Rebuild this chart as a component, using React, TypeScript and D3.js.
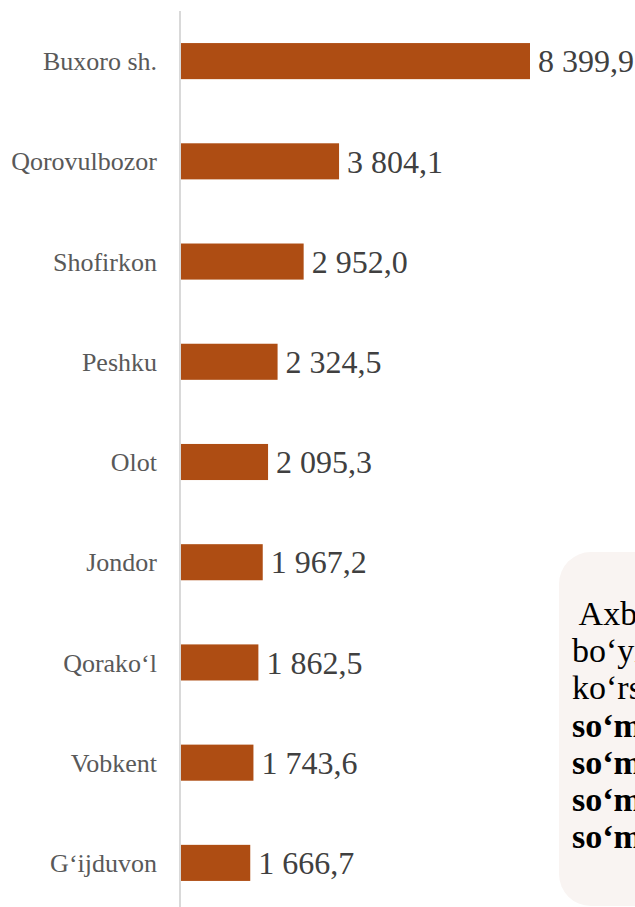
import { useEffect, useRef } from 'react';
import * as d3 from 'd3';

const districts = [
  'Buxoro sh.',
  'Qorovulbozor',
  'Shofirkon',
  'Peshku',
  'Olot',
  'Jondor',
  'Qorako‘l',
  'Vobkent',
  'G‘ijduvon',
];
const values = [8399.9, 3804.1, 2952.0, 2324.5, 2095.3, 1967.2, 1862.5, 1743.6, 1666.7];
const valueLabels = ['8 399,9', '3 804,1', '2 952,0', '2 324,5', '2 095,3', '1 967,2', '1 862,5', '1 743,6', '1 666,7'];

// note box text (the box is cut by the right edge of the picture)
const noteLines = [
  ' Axborot uchun: respublika',
  'bo‘yicha o‘rtacha',
  'ko‘rsatkich',
  'so‘m',
  'so‘m',
  'so‘m',
  'so‘m',
];
const boldFrom = 3;

const W = 635;
const H = 907;

export default function App() {
  const svgRef = useRef<SVGSVGElement>(null);

  useEffect(() => {
    if (!svgRef.current) return;
    document.body.style.margin = '0';

    const svg = d3.select(svgRef.current);
    svg.selectAll('*').remove();

    const x = d3.scaleLinear().domain([0, d3.max(values) as number]).range([181, 530]);
    const y = d3.scaleBand<string>()
      .domain(districts)
      .range([11, 913])
      .paddingInner(0.64)
      .paddingOuter(0.32);

    const rows = districts.map((name, i) => ({ name, value: values[i], label: valueLabels[i] }));

    // bars
    svg.append('g')
      .selectAll('rect')
      .data(rows)
      .join('rect')
      .attr('x', x(0))
      .attr('y', (d) => y(d.name) as number)
      .attr('width', (d) => x(d.value) - x(0))
      .attr('height', y.bandwidth())
      .attr('fill', '#ae4d13');

    // vertical axis line
    svg.append('line')
      .attr('x1', 180)
      .attr('x2', 180)
      .attr('y1', 11)
      .attr('y2', H)
      .attr('stroke', '#d9d9d9')
      .attr('stroke-width', 2);

    // category labels
    svg.append('g')
      .attr('text-anchor', 'end')
      .style('font-family', '"Liberation Serif", "Times New Roman", serif')
      .style('font-size', '26px')
      .attr('fill', '#595959')
      .selectAll('text')
      .data(rows)
      .join('text')
      .attr('x', 157)
      .attr('y', (d) => (y(d.name) as number) + y.bandwidth() / 2)
      .attr('dy', '0.35em')
      .text((d) => d.name);

    // value labels
    svg.append('g')
      .style('font-family', '"Liberation Serif", "Times New Roman", serif')
      .style('font-size', '32px')
      .attr('fill', '#404040')
      .selectAll('text')
      .data(rows)
      .join('text')
      .attr('x', (d) => x(d.value) + 8)
      .attr('y', (d) => (y(d.name) as number) + y.bandwidth() / 2)
      .attr('dy', '0.35em')
      .text((d) => d.label);

    // note box
    svg.append('rect')
      .attr('x', 559)
      .attr('y', 552)
      .attr('width', 200)
      .attr('height', 354)
      .attr('rx', 32)
      .attr('fill', '#f9f4f2');

    svg.append('g')
      .style('font-family', '"Liberation Serif", "Times New Roman", serif')
      .style('font-size', '34px')
      .style('white-space', 'pre')
      .attr('fill', '#000')
      .selectAll('text')
      .data(noteLines)
      .join('text')
      .attr('x', 572)
      .attr('y', (_d, i) => 625 + i * 37.2)
      .attr('font-weight', (_d, i) => (i >= boldFrom ? 'bold' : 'normal'))
      .attr('xml:space', 'preserve')
      .text((d) => d);
  }, []);

  return (
    <div style={{ position: 'absolute', left: 0, top: 0, width: W, height: H, overflow: 'hidden' }}>
      <svg ref={svgRef} width={W} height={H} style={{ display: 'block', background: '#fff' }} />
    </div>
  );
}
